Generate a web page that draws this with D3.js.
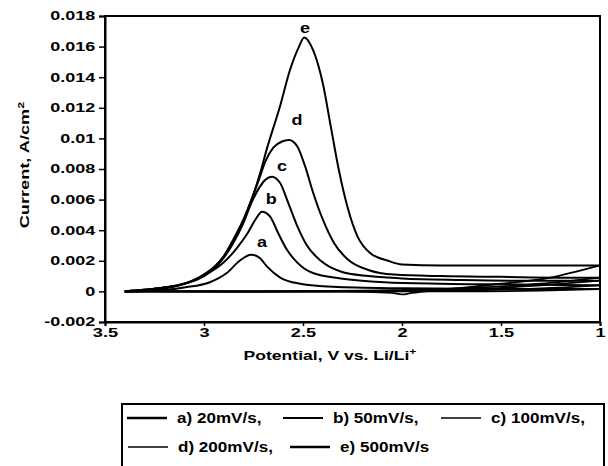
<!DOCTYPE html>
<html><head><meta charset="utf-8">
<script src="https://cdn.jsdelivr.net/npm/d3@7"></script>
<style>
body{margin:0;background:#fff}
svg{display:block}
text{font-family:"Liberation Sans",Arial,sans-serif;font-weight:bold;fill:#000}
</style>
</head><body>
<svg id="chart" width="608" height="466"></svg>
<script>
// ---------- data ----------
const seriesKeys = ["a", "b", "c", "d", "e"];
const legendLabels = ["a) 20mV/s,", "b) 50mV/s,", "c) 100mV/s,", "d) 200mV/s,", "e) 500mV/s"];
const xTicks = [3.5, 3, 2.5, 2, 1.5, 1];
const xTickLabels = ["3.5", "3", "2.5", "2", "1.5", "1"];
const yTicks = [-0.002, 0, 0.002, 0.004, 0.006, 0.008, 0.01, 0.012, 0.014, 0.016, 0.018];
const yTickLabels = ["-0.002", "0", "0.002", "0.004", "0.006", "0.008", "0.01", "0.012", "0.014", "0.016", "0.018"];

// forward sweeps (potential V, current A/cm2)
const aFwdV = [3.4, 3.3, 3.2, 3.1, 2.97, 2.885, 2.82, 2.763, 2.72, 2.68, 2.615, 2.515, 2.35, 2.0, 1.5, 1.0];
const aFwdI = [0, 0.00003, 0.0001, 0.00026, 0.0006, 0.0012, 0.002, 0.0024, 0.0022, 0.0016, 0.0009, 0.0005, 0.0003, 0.0002, 0.00015, 0.00015];
const bFwdV = [3.4, 3.3, 3.2, 3.11, 2.99, 2.9, 2.83, 2.78, 2.74, 2.707, 2.667, 2.625, 2.58, 2.53, 2.45, 2.31, 2.09, 1.8, 1.4, 1.0];
const bFwdI = [0, 0.00005, 0.0002, 0.00045, 0.0011, 0.0019, 0.0029, 0.0038, 0.0047, 0.0052, 0.0049, 0.0038, 0.0027, 0.0019, 0.0012, 0.00085, 0.0006, 0.0005, 0.00045, 0.0004];
const cFwdV = [3.4, 3.3, 3.2, 3.1, 3.0, 2.94, 2.9, 2.855, 2.8, 2.76, 2.72, 2.69, 2.657, 2.616, 2.575, 2.53, 2.48, 2.41, 2.31, 2.17, 2.0, 1.7, 1.4, 1.0];
const cFwdI = [0, 0.0001, 0.00025, 0.0005, 0.001, 0.0016, 0.0022, 0.0031, 0.0045, 0.0058, 0.0068, 0.0073, 0.0075, 0.0071, 0.0058, 0.0043, 0.003, 0.002, 0.0013, 0.001, 0.00085, 0.00075, 0.0007, 0.0007];
const dFwdV = [3.4, 3.3, 3.2, 3.1, 3.0, 2.94, 2.9, 2.855, 2.8, 2.76, 2.72, 2.69, 2.65, 2.606, 2.57, 2.53, 2.49, 2.45, 2.40, 2.345, 2.275, 2.17, 2.04, 1.8, 1.5, 1.2, 1.0];
const dFwdI = [0, 0.0001, 0.00025, 0.0005, 0.0011, 0.0017, 0.0023, 0.0033, 0.0047, 0.006, 0.0074, 0.0085, 0.0094, 0.0098, 0.0099, 0.0095, 0.0082, 0.0065, 0.0047, 0.0032, 0.0021, 0.0014, 0.0011, 0.001, 0.00095, 0.0009, 0.0009];
const eFwdV = [3.4, 3.3, 3.2, 3.1, 3.0, 2.94, 2.9, 2.855, 2.8, 2.76, 2.717, 2.683, 2.616, 2.565, 2.52, 2.494, 2.45, 2.40, 2.36, 2.32, 2.275, 2.225, 2.16, 2.07, 2.0, 1.8, 1.5, 1.2, 1.0];
const eFwdI = [0, 0.0001, 0.00025, 0.0005, 0.0011, 0.0017, 0.0023, 0.0033, 0.0047, 0.006, 0.0077, 0.0093, 0.0121, 0.0145, 0.016, 0.0166, 0.0158, 0.0136, 0.0108, 0.008, 0.0055, 0.0036, 0.0025, 0.002, 0.00176, 0.0017, 0.0017, 0.0017, 0.0017];

// return sweeps
const aRevV = [1.0, 1.3, 1.7, 2.2, 2.8, 3.4];
const aRevI = [0.00015, 0.00005, 0, 0, -0.00003, 0];
const bRevV = [1.0, 1.3, 1.7, 2.2, 2.8, 3.4];
const bRevI = [0.0004, 0.0002, 0.00005, 0, 0, 0];
const cRevV = [1.0, 1.3, 1.7, 2.2, 2.8, 3.4];
const cRevI = [0.0007, 0.0004, 0.0001, 0, 0, 0];
const dRevV = [1.0, 1.3, 1.7, 2.2, 2.8, 3.4];
const dRevI = [0.0009, 0.0005, 0.0002, 0.00005, 0, 0];
const eRevV = [1.0, 1.12, 1.25, 1.5, 1.8, 1.95, 2.0, 2.05, 2.3, 2.8, 3.4];
const eRevI = [0.0017, 0.0013, 0.0009, 0.0005, 0.0001, -0.0001, -0.0002, -0.0001, 0, 0, 0];

// label positions (potential, current) of the curve letters (text baseline)
const letterV = [2.707, 2.66, 2.606, 2.53, 2.49];
const letterI = [0.00287, 0.00568, 0.00784, 0.0109, 0.0169];

const fwd = {a: [aFwdV, aFwdI], b: [bFwdV, bFwdI], c: [cFwdV, cFwdI], d: [dFwdV, dFwdI], e: [eFwdV, eFwdI]};
const rev = {a: [aRevV, aRevI], b: [bRevV, bRevI], c: [cRevV, cRevI], d: [dRevV, dRevI], e: [eRevV, eRevI]};

// ---------- layout ----------
const svg = d3.select("#chart");
const L = 105, R = 600, T = 16, B = 322;
const x = d3.scaleLinear().domain([3.5, 1]).range([L, R]);
const y = d3.scaleLinear().domain([-0.002, 0.018]).range([B, T]);

// frame
svg.append("rect").attr("x", L).attr("y", T).attr("width", R - L).attr("height", B - T)
  .attr("fill", "none").attr("stroke", "#000").attr("stroke-width", 2);

// y axis
const yAx = svg.append("g").attr("transform", `translate(${L},0)`)
  .call(d3.axisLeft(y).tickValues(yTicks).tickSize(6).tickFormat((d, i) => yTickLabels[i]));
yAx.select(".domain").attr("stroke-width", 2);
yAx.selectAll("line").attr("stroke-width", 1.5);
yAx.selectAll("text").attr("font-size", 12).attr("x", -6.5).attr("transform", "scale(1.5,1)")
  .attr("font-family", "Liberation Sans, Arial, sans-serif").attr("font-weight", "bold");

// x axis
const xAx = svg.append("g").attr("transform", `translate(0,${B})`)
  .call(d3.axisBottom(x).tickValues(xTicks).tickSize(4).tickFormat((d, i) => xTickLabels[i]));
xAx.select(".domain").attr("stroke-width", 2);
xAx.selectAll("line").attr("stroke-width", 1.5);
xAx.selectAll("text").attr("font-size", 13).attr("y", 6).attr("transform", "scale(1.4,1)")
  .attr("font-family", "Liberation Sans, Arial, sans-serif").attr("font-weight", "bold");

// axis titles
const xt = svg.append("text").attr("transform", "translate(330,360) scale(1.35,1)")
  .attr("text-anchor", "middle").attr("font-size", 13);
xt.append("tspan").text("Potential, V vs. Li/Li");
xt.append("tspan").text("+").attr("font-size", 9).attr("dy", -5);

const yt = svg.append("text").attr("transform", "translate(29,165) rotate(-90) scale(1.4,1)")
  .attr("text-anchor", "middle").attr("font-size", 13);
yt.append("tspan").text("Current, A/cm");
yt.append("tspan").text("2").attr("font-size", 9).attr("dy", -5);

// curves
const line = d3.line().x(d => x(d[0])).y(d => y(d[1])).curve(d3.curveMonotoneX);
const plot = svg.append("g");
seriesKeys.forEach(k => {
  const [V, I] = rev[k];
  const pts = V.map((v, i) => [v, I[i]]).sort((p, q) => x(p[0]) - x(q[0]));
  plot.append("path").attr("d", line(pts)).attr("fill", "none").attr("stroke", "#000").attr("stroke-width", 1.8);
});
seriesKeys.forEach(k => {
  const [V, I] = fwd[k];
  const pts = V.map((v, i) => [v, I[i]]).sort((p, q) => x(p[0]) - x(q[0]));
  plot.append("path").attr("d", line(pts)).attr("fill", "none").attr("stroke", "#000").attr("stroke-width", 2);
});

// curve letters
seriesKeys.forEach((k, i) => {
  svg.append("text").attr("transform", `translate(${x(letterV[i])},${y(letterI[i])}) scale(1.2,1)`)
    .attr("text-anchor", "middle").attr("font-size", 15).text(k);
});

// legend
svg.append("rect").attr("x", 122).attr("y", 404).attr("width", 482).attr("height", 80)
  .attr("fill", "none").attr("stroke", "#000").attr("stroke-width", 2);
const legPos = [[127, 418], [283, 418], [441, 418], [128, 447], [290, 447]];
const legW = [2.5, 2, 1.5, 1.5, 2.5];
seriesKeys.forEach((k, i) => {
  const [lx, ly] = legPos[i];
  svg.append("line").attr("x1", lx).attr("x2", lx + 40).attr("y1", ly).attr("y2", ly)
    .attr("stroke", "#000").attr("stroke-width", legW[i]);
  svg.append("text").attr("transform", `translate(${lx + 50},${ly + 5}) scale(1.22,1)`)
    .attr("font-size", 14).text(legendLabels[i]);
});
</script>
</body></html>
